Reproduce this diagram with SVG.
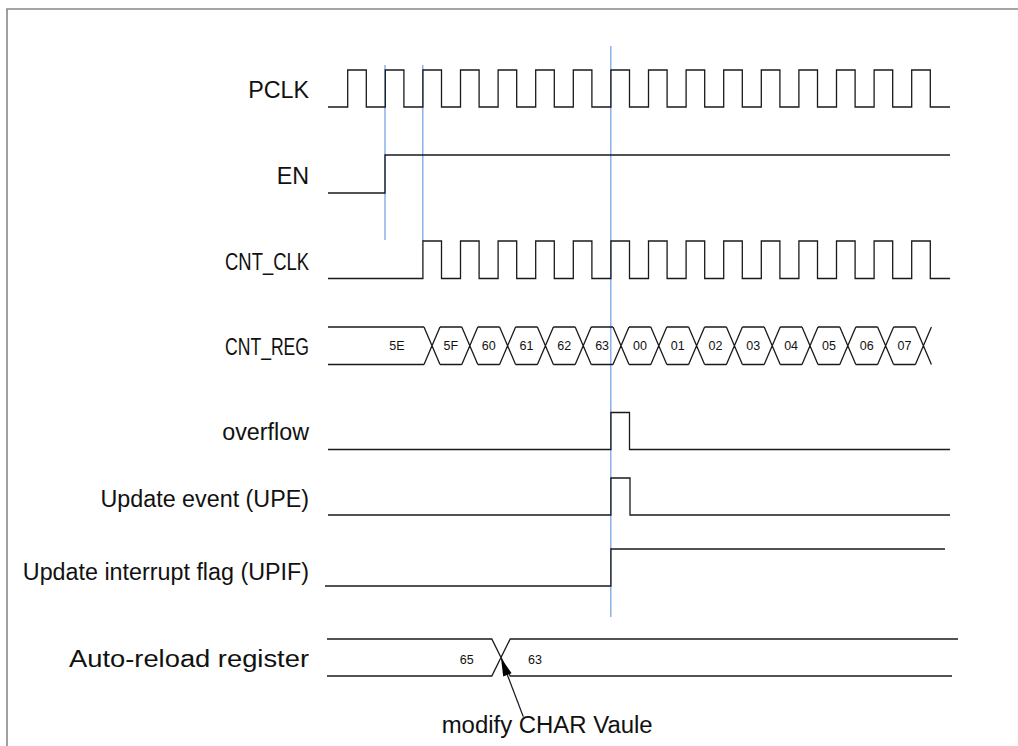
<svg xmlns="http://www.w3.org/2000/svg" width="1018" height="746" viewBox="0 0 1018 746">
<style>
.sig{fill:none;stroke:#1a1a1a;stroke-width:1.3}
.blue{stroke:#78a6e8;stroke-width:1.3}
.lbl{font-family:"Liberation Sans",Arial,sans-serif;font-size:23.3px;fill:#111;text-anchor:end}
.val{font-family:"Liberation Sans",Arial,sans-serif;font-size:12.5px;fill:#111;text-anchor:middle}
.note{font-family:"Liberation Sans",Arial,sans-serif;font-size:23.3px;fill:#111}
</style>
<rect x="0" y="0" width="1018" height="746" fill="#fff"/>
<path d="M7,746 V9 H1018" fill="none" stroke="#888" stroke-width="1.6"/>

<g id="guides">
<line class="blue" x1="385" y1="65" x2="385" y2="240"/>
<line class="blue" x1="422.8" y1="65" x2="422.8" y2="241"/>
<line class="blue" x1="610.8" y1="46" x2="610.8" y2="617"/>
</g>

<g id="pclk">
<text class="lbl" x="309" y="97.5">PCLK</text>
<path class="sig" d="M328,107 H347.7 V70 H366.3 V107 H385.3 V70 H403.9 V107 H422.9 V70 H441.5 V107 H460.5 V70 H479.1 V107 H498.1 V70 H516.7 V107 H535.7 V70 H554.3 V107 H573.3 V70 H591.9 V107 H610.9 V70 H629.5 V107 H648.5 V70 H667.1 V107 H686.1 V70 H704.7 V107 H723.7 V70 H742.3 V107 H761.3 V70 H779.9 V107 H798.9 V70 H817.5 V107 H836.5 V70 H855.1 V107 H874.1 V70 H892.7 V107 H911.7 V70 H930.3 V107 H950"/>
</g>

<g id="en">
<text class="lbl" x="309" y="183.5">EN</text>
<path class="sig" d="M328,193 H385 V155 H950"/>
</g>

<g id="cnt_clk">
<text class="lbl" x="309" y="269.5" textLength="84" lengthAdjust="spacingAndGlyphs">CNT_CLK</text>
<path class="sig" d="M328,278.5 H422.9 V241 H441.5 V278.5 H460.5 V241 H479.1 V278.5 H498.1 V241 H516.7 V278.5 H535.7 V241 H554.3 V278.5 H573.3 V241 H591.9 V278.5 H610.9 V241 H629.5 V278.5 H648.5 V241 H667.1 V278.5 H686.1 V241 H704.7 V278.5 H723.7 V241 H742.3 V278.5 H761.3 V241 H779.9 V278.5 H798.9 V241 H817.5 V278.5 H836.5 V241 H855.1 V278.5 H874.1 V241 H892.7 V278.5 H911.7 V241 H930.3 V278.5 H950"/>
</g>

<g id="cnt_reg">
<text class="lbl" x="309" y="355" textLength="84" lengthAdjust="spacingAndGlyphs">CNT_REG</text>
<path class="sig" d="M328,327 H424 M440,327 H461.8 M477.8,327 H499.6 M515.6,327 H537.4 M553.4,327 H575.2 M591.2,327 H613 M629,327 H650.8 M666.8,327 H688.6 M704.6,327 H726.4 M742.4,327 H764.2 M780.2,327 H802 M818,327 H839.8 M855.8,327 H877.6 M893.6,327 H915.4
M328,364.5 H424 M440,364.5 H461.8 M477.8,364.5 H499.6 M515.6,364.5 H537.4 M553.4,364.5 H575.2 M591.2,364.5 H613 M629,364.5 H650.8 M666.8,364.5 H688.6 M704.6,364.5 H726.4 M742.4,364.5 H764.2 M780.2,364.5 H802 M818,364.5 H839.8 M855.8,364.5 H877.6 M893.6,364.5 H915.4
M424,327 L440,364.5 M424,364.5 L440,327
M461.8,327 L477.8,364.5 M461.8,364.5 L477.8,327
M499.6,327 L515.6,364.5 M499.6,364.5 L515.6,327
M537.4,327 L553.4,364.5 M537.4,364.5 L553.4,327
M575.2,327 L591.2,364.5 M575.2,364.5 L591.2,327
M613,327 L629,364.5 M613,364.5 L629,327
M650.8,327 L666.8,364.5 M650.8,364.5 L666.8,327
M688.6,327 L704.6,364.5 M688.6,364.5 L704.6,327
M726.4,327 L742.4,364.5 M726.4,364.5 L742.4,327
M764.2,327 L780.2,364.5 M764.2,364.5 L780.2,327
M802,327 L818,364.5 M802,364.5 L818,327
M839.8,327 L855.8,364.5 M839.8,364.5 L855.8,327
M877.6,327 L893.6,364.5 M877.6,364.5 L893.6,327
M915.4,327 L931.4,364.5 M915.4,364.5 L931.4,327"/>
<text class="val" x="397" y="349.5">5E</text>
<text class="val" x="450.9" y="349.5">5F</text>
<text class="val" x="488.7" y="349.5">60</text>
<text class="val" x="526.5" y="349.5">61</text>
<text class="val" x="564.3" y="349.5">62</text>
<text class="val" x="602.1" y="349.5">63</text>
<text class="val" x="639.9" y="349.5">00</text>
<text class="val" x="677.7" y="349.5">01</text>
<text class="val" x="715.5" y="349.5">02</text>
<text class="val" x="753.3" y="349.5">03</text>
<text class="val" x="791.1" y="349.5">04</text>
<text class="val" x="828.9" y="349.5">05</text>
<text class="val" x="866.7" y="349.5">06</text>
<text class="val" x="904.5" y="349.5">07</text>
</g>

<g id="overflow">
<text class="lbl" x="309" y="440">overflow</text>
<path class="sig" d="M328,449.5 H610.9 V412.5 H629.5 V449.5 H950"/>
</g>

<g id="upe">
<text class="lbl" x="309" y="506.5">Update event (UPE)</text>
<path class="sig" d="M328,515 H610.9 V478 H630 V515 H950"/>
</g>

<g id="upif">
<text class="lbl" x="309" y="580">Update interrupt flag (UPIF)</text>
<path class="sig" d="M325,586 H610.9 V549 H945"/>
</g>

<g id="autoreload">
<text class="lbl" x="309" y="667" textLength="240" lengthAdjust="spacingAndGlyphs">Auto-reload register</text>
<path class="sig" d="M327,639 H491.8 L510.2,676 H952 M327,676 H491.8 L510.2,639 H958"/>
<text class="val" x="466.7" y="663.5">65</text>
<text class="val" x="535" y="663.5">63</text>
</g>

<g id="connectors">
<line x1="523.3" y1="716.7" x2="505.5" y2="670" stroke="#1a1a1a" stroke-width="1.2"/>
<polygon points="501,658 511.6,673.2 503.2,676.4" fill="#000"/>
</g>

<g id="note">
<text class="note" x="441.7" y="733" textLength="211" lengthAdjust="spacingAndGlyphs">modify CHAR Vaule</text>
</g>
</svg>
